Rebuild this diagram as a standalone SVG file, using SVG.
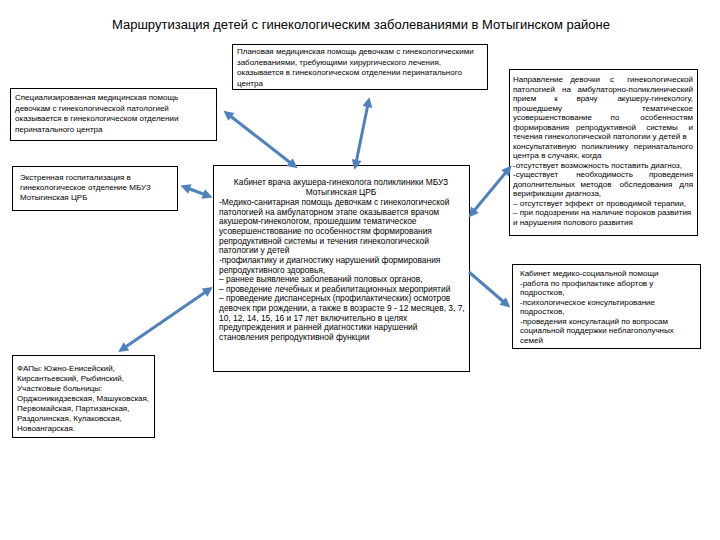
<svg xmlns="http://www.w3.org/2000/svg" width="720" height="540" viewBox="0 0 720 540">
<defs>
<style>
.box{fill:#fff;stroke:#000;stroke-width:1}
.t{font-family:"Liberation Sans",Arial,sans-serif;font-size:8px;fill:#000}
.cb{font-size:8.4px}
.title{font-family:"Liberation Sans",Arial,sans-serif;font-size:12.5px;fill:#000}
.c{text-anchor:middle}
.m{text-anchor:middle}
.e{text-anchor:end}
.arr{stroke:#4F81BD;stroke-width:3;fill:none}
</style>
<marker id="ah" viewBox="0 0 10 10" refX="3" refY="5" markerWidth="11" markerHeight="10" markerUnits="userSpaceOnUse" orient="auto-start-reverse">
<path d="M0,0 L10,5 L0,10 z" fill="#4F81BD"/>
</marker>
</defs>
<rect width="720" height="540" fill="#fff"/>
<text class="title" x="361" y="29" text-anchor="middle" textLength="498" lengthAdjust="spacingAndGlyphs">Маршрутизация детей с гинекологическим заболеваниями в Мотыгинском районе</text>

<g id="top-box">
<rect class="box" x="232.5" y="44.5" width="255" height="45"/>
<text class="t" x="237" y="54">Плановая медицинская помощь девочкам с гинекологическими</text>
<text class="t" x="237" y="64.5">заболеваниями, требующими хирургического лечения,</text>
<text class="t" x="237" y="75">оказывается в гинекологическом отделении перинатального</text>
<text class="t" x="237" y="85.5">центра</text>
</g>

<g id="left-box-1">
<rect class="box" x="10.5" y="88.5" width="206" height="52"/>
<text class="t" x="15" y="100">Специализированная медицинская помощь</text>
<text class="t" x="15" y="110.5">девочкам с гинекологической патологией</text>
<text class="t" x="15" y="121">оказывается в гинекологическом отделении</text>
<text class="t" x="15" y="131.5">перинатального центра</text>
</g>

<g id="left-box-2">
<rect class="box" x="12.5" y="166.5" width="165" height="44"/>
<text class="t" x="20" y="180">Экстренная госпитализация в</text>
<text class="t" x="20" y="190">гинекологическое отделение МБУЗ</text>
<text class="t" x="20" y="200">Мотыгинская ЦРБ</text>
</g>

<g id="left-box-3">
<rect class="box" x="12.5" y="355.5" width="142" height="82"/>
<text class="t" x="17" y="371">ФАПы: Южно-Енисейский,</text>
<text class="t" x="17" y="381">Кирсантьевский, Рыбинский,</text>
<text class="t" x="17" y="391">Участковые больницы:</text>
<text class="t" x="17" y="401">Орджоникидзевская, Машуковская,</text>
<text class="t" x="17" y="411">Первомайская, Партизанская,</text>
<text class="t" x="17" y="421">Раздолинская, Кулаковская,</text>
<text class="t" x="17" y="430.5">Новоангарская.</text>
</g>

<g id="center-box">
<rect class="box" x="213.5" y="165.5" width="256" height="206"/>
<text class="t cb c" x="341" y="185">Кабинет врача акушера-гинеколога поликлиники МБУЗ</text>
<text class="t cb c" x="341" y="195">Мотыгинская ЦРБ</text>
<text class="t cb" x="219" y="205">-Медико-санитарная помощь девочкам с гинекологической</text>
<text class="t cb" x="219" y="214.6">патологией на амбулаторном этапе оказывается врачом</text>
<text class="t cb" x="219" y="224.3">акушером-гинекологом, прошедшим тематическое</text>
<text class="t cb" x="219" y="233.9">усовершенствование по особенностям формирования</text>
<text class="t cb" x="219" y="243.6">репродуктивной системы и течения гинекологической</text>
<text class="t cb" x="219" y="253.2">патологии у детей</text>
<text class="t cb" x="219" y="262.8">-профилактику и диагностику нарушений формирования</text>
<text class="t cb" x="219" y="272.5">репродуктивного здоровья,</text>
<text class="t cb" x="219" y="282.1">– раннее выявление заболеваний половых органов,</text>
<text class="t cb" x="219" y="291.8">– проведение лечебных и реабилитационных мероприятий</text>
<text class="t cb" x="219" y="301.4">– проведение диспансерных (профилактических) осмотров</text>
<text class="t cb" x="219" y="311">девочек при рождении, а также в возрасте 9 - 12 месяцев, 3, 7,</text>
<text class="t cb" x="219" y="320.7">10, 12, 14, 15, 16 и 17 лет включительно в целях</text>
<text class="t cb" x="219" y="330.3">предупреждения и ранней диагностики нарушений</text>
<text class="t cb" x="219" y="340">становления репродуктивной функции</text>
</g>

<g id="right-box-1">
<rect class="box" x="509.5" y="69.5" width="188" height="166"/>
<text class="t" y="82"><tspan x="513">Направление</tspan><tspan class="m" x="585">девочки</tspan><tspan class="m" x="612">с</tspan><tspan class="e" x="693">гинекологической</tspan></text>
<text class="t" y="91.5"><tspan x="513">патологией</tspan><tspan class="m" x="566.5">на</tspan><tspan class="e" x="693">амбулаторно-поликлинический</tspan></text>
<text class="t" y="101.1"><tspan x="513">прием</tspan><tspan class="m" x="556">к</tspan><tspan class="m" x="587">врачу</tspan><tspan class="e" x="693">акушеру-гинекологу,</tspan></text>
<text class="t" y="110.6"><tspan x="513">прошедшему</tspan><tspan class="e" x="693">тематическое</tspan></text>
<text class="t" y="120.1"><tspan x="513">усовершенствование</tspan><tspan class="m" x="615">по</tspan><tspan class="e" x="693">особенностям</tspan></text>
<text class="t" y="129.7"><tspan x="513">формирования</tspan><tspan class="m" x="606">репродуктивной</tspan><tspan class="m" x="662">системы</tspan><tspan class="e" x="693">и</tspan></text>
<text class="t" x="513" y="139.2">течения гинекологической патологии у детей в</text>
<text class="t" y="148.7"><tspan x="513">консультативную</tspan><tspan class="m" x="605">поликлинику</tspan><tspan class="e" x="693">перинатального</tspan></text>
<text class="t" x="513" y="158.2">центра в случаях, когда</text>
<text class="t" x="513" y="167.8">-отсутствует возможность поставить диагноз,</text>
<text class="t" y="177.3"><tspan x="513">-существует</tspan><tspan class="m" x="604.5">необходимость</tspan><tspan class="e" x="693">проведения</tspan></text>
<text class="t" y="186.8"><tspan x="513">дополнительных</tspan><tspan class="m" x="596">методов</tspan><tspan class="m" x="646">обследования</tspan><tspan class="e" x="693">для</tspan></text>
<text class="t" x="513" y="196.4">верификации диагноза,</text>
<text class="t" x="513" y="205.9">– отсутствует эффект от проводимой терапии,</text>
<text class="t" x="513" y="215.4">– при подозрении на наличие пороков развития</text>
<text class="t" x="513" y="225">и нарушения полового развития</text>
</g>

<g id="right-box-2">
<rect class="box" x="512.5" y="264.5" width="188" height="84"/>
<text class="t" x="520" y="276">Кабинет медико-социальной помощи</text>
<text class="t" x="520" y="285.6">-работа по профилактике абортов  у</text>
<text class="t" x="520" y="295.1">подростков,</text>
<text class="t" x="520" y="304.7">-психологическое консультирование</text>
<text class="t" x="520" y="314.3">подростков,</text>
<text class="t" x="520" y="323.9">-проведения консультаций по вопросам</text>
<text class="t" x="520" y="333.4">социальной поддержки неблагополучных</text>
<text class="t" x="520" y="343">семей</text>
</g>

<g id="connectors">
<line class="arr" x1="229" y1="115" x2="292" y2="164" marker-start="url(#ah)" marker-end="url(#ah)"/>
<line class="arr" x1="368" y1="104" x2="356" y2="163" marker-start="url(#ah)" marker-end="url(#ah)"/>
<line class="arr" x1="187" y1="188" x2="206" y2="195" marker-start="url(#ah)" marker-end="url(#ah)"/>
<line class="arr" x1="124" y1="348" x2="207" y2="291" marker-start="url(#ah)" marker-end="url(#ah)"/>
<line class="arr" x1="473" y1="212" x2="507" y2="171" marker-start="url(#ah)" marker-end="url(#ah)"/>
<line class="arr" x1="469" y1="272" x2="505" y2="303" marker-end="url(#ah)"/>
</g>
</svg>
